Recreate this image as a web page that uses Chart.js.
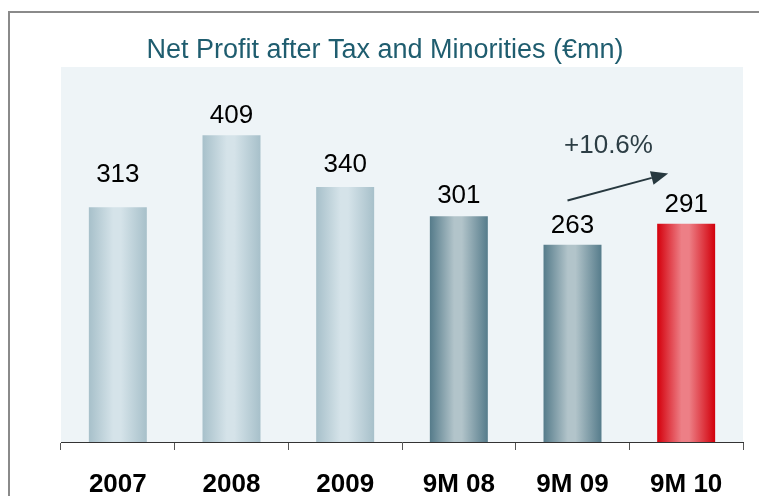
<!DOCTYPE html>
<html>
<head>
<meta charset="utf-8">
<script src="https://cdn.jsdelivr.net/npm/chart.js@4.4.1/dist/chart.umd.min.js"></script>
<style>
  html, body { margin: 0; padding: 0; background: #ffffff; overflow: hidden; }
  #wrap { width: 759px; height: 496px; }
  canvas { display: block; }
</style>
</head>
<body>
<div id="wrap"><canvas id="myChart" width="759" height="496"></canvas></div>
<script>
const categories = ['2007', '2008', '2009', '9M 08', '9M 09', '9M 10'];
const profit = [313, 409, 340, 301, 263, 291];
const growthLabel = '+10.6%';
const titleText = 'Net Profit after Tax and Minorities (\u20acmn)';

// colour group of each bar and how far its number sits above it
const barGroup = ['light', 'light', 'light', 'dark', 'dark', 'red'];
const labelLift = [32, 19, 22, 20, 19, 19];

const gradStops = {
    light: ['#a7c0ca', '#d5e3e9', '#a7c0ca'],
    dark:  ['#557b8a', '#b2c4ca', '#567c8b'],
    red:   ['#d4000c', '#ed7f86', '#d2000b']
};

const FONT = "'Liberation Sans', Arial, sans-serif";
const barPct = 0.51;

function barFill(c) {
    const chart = c.chart;
    const xs = chart.scales.x;
    const s = gradStops[barGroup[c.dataIndex]];
    if (!chart.chartArea || !xs) return s[1];
    const cx = xs.getPixelForValue(c.dataIndex);
    const half = xs.width / categories.length * barPct / 2;
    const g = chart.ctx.createLinearGradient(cx - half, 0, cx + half, 0);
    g.addColorStop(0, s[0]);
    g.addColorStop(0.42, s[1]);
    g.addColorStop(0.55, s[1]);
    g.addColorStop(1, s[2]);
    return g;
}

const decor = {
    id: 'decor',
    beforeDraw(chart) {
        const ctx = chart.ctx;
        const a = chart.chartArea;
        ctx.save();
        // outer frame (only top and left edges are in view)
        ctx.strokeStyle = '#8a8a8a';
        ctx.lineWidth = 2;
        ctx.beginPath();
        ctx.moveTo(9, chart.height);
        ctx.lineTo(9, 12);
        ctx.lineTo(chart.width, 12);
        ctx.stroke();
        // plot background
        ctx.fillStyle = '#eef4f7';
        ctx.fillRect(a.left, a.top, a.right - a.left, a.bottom - a.top);
        // title
        ctx.fillStyle = '#1f5d6f';
        ctx.font = '27px ' + FONT;
        ctx.textAlign = 'center';
        ctx.textBaseline = 'middle';
        ctx.fillText(titleText, 385, 51);
        ctx.restore();
    },
    afterDatasetsDraw(chart) {
        const ctx = chart.ctx;
        const meta = chart.getDatasetMeta(0);
        const xs = chart.scales.x, ys = chart.scales.y;
        ctx.save();
        ctx.font = '26px ' + FONT;
        ctx.fillStyle = '#000000';
        ctx.textAlign = 'center';
        ctx.textBaseline = 'middle';
        meta.data.forEach((bar, i) => {
            ctx.fillText(String(profit[i]), bar.x, bar.y - labelLift[i]);
        });

        // growth arrow 9M 09 -> 9M 10
        const x0 = xs.getPixelForValue(4) - 5, y0 = ys.getPixelForValue(322);
        const x1 = xs.getPixelForValue(5) - 18, y1 = ys.getPixelForValue(358);
        const ang = Math.atan2(y1 - y0, x1 - x0);
        const headLen = 17, headHalf = 7;
        const bx = x1 - headLen * Math.cos(ang), by = y1 - headLen * Math.sin(ang);
        ctx.strokeStyle = '#27383f';
        ctx.fillStyle = '#27383f';
        ctx.lineWidth = 2;
        ctx.beginPath();
        ctx.moveTo(x0, y0);
        ctx.lineTo(bx, by);
        ctx.stroke();
        ctx.beginPath();
        ctx.moveTo(x1, y1);
        ctx.lineTo(bx + headHalf * Math.sin(ang), by - headHalf * Math.cos(ang));
        ctx.lineTo(bx - headHalf * Math.sin(ang), by + headHalf * Math.cos(ang));
        ctx.closePath();
        ctx.fill();

        ctx.fillStyle = '#2d3e45';
        ctx.fillText(growthLabel, xs.getPixelForValue(4) + 36, ys.getPixelForValue(395));
        ctx.restore();
    }
};

const data = {
    labels: categories,
    datasets: [{
        label: 'Net profit',
        data: profit,
        backgroundColor: barFill,
        borderWidth: 0,
        barPercentage: barPct,
        categoryPercentage: 1
    }]
};

const config = {
    type: 'bar',
    data,
    options: {
        responsive: false,
        animation: false,
        layout: {
            padding: { left: 61, right: 16, top: 67, bottom: -24 }
        },
        plugins: {
            legend: { display: false },
            title: { display: false },
            tooltip: { enabled: false }
        },
        scales: {
            x: {
                border: { display: true, color: '#333333', width: 1 },
                grid: {
                    drawOnChartArea: false,
                    drawTicks: true,
                    tickLength: 8,
                    color: '#555555'
                },
                ticks: {
                    color: '#000000',
                    padding: 22,
                    maxRotation: 0,
                    font: { family: FONT, size: 26, weight: 'bold', lineHeight: 1 }
                }
            },
            y: {
                display: false,
                min: 0,
                max: 500
            }
        }
    },
    plugins: [decor]
};

const myChart = new Chart(
    document.getElementById('myChart'),
    config
);
</script>
</body>
</html>
